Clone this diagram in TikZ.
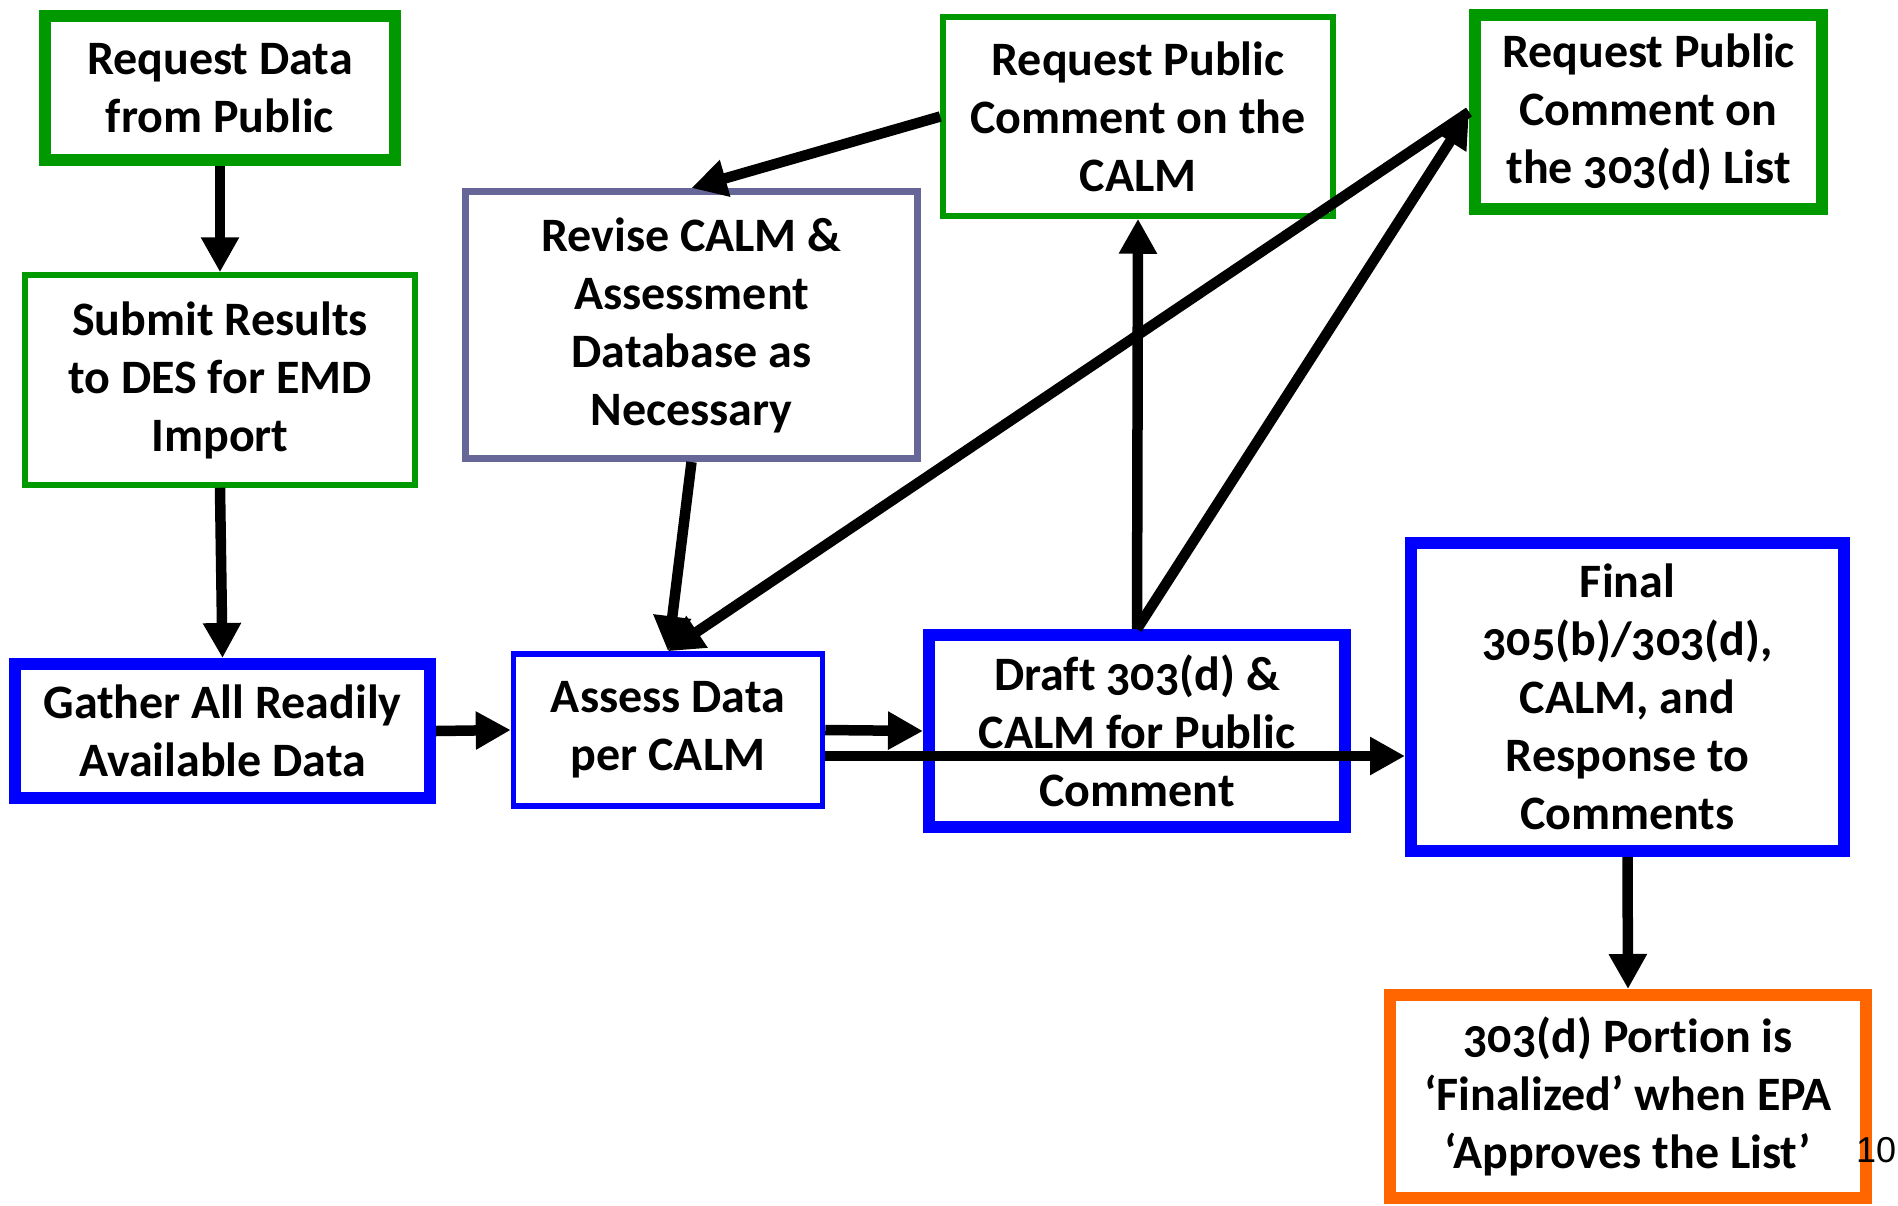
\documentclass[tikz,border=0pt]{standalone}
\usepackage{fontspec}
\setmainfont{Carlito}[Numbers=OldStyle, Ligatures=NoCommon]
\newfontfamily\pagefont{Liberation Sans}
\usetikzlibrary{arrows.meta}
\definecolor{boxgreen}{RGB}{0,153,0}
\definecolor{boxblue}{RGB}{0,0,255}
\definecolor{boxslate}{RGB}{102,102,153}
\definecolor{boxorange}{RGB}{255,102,0}
\begin{document}
\begin{tikzpicture}[x=1pt, y=-1pt,
		box/.style={draw, fill=white, inner sep=0pt, align=center, font=\bfseries\fontsize{48}{58}\selectfont},
		heavy/.style={box, line width=12pt},
		light/.style={box, line width=5.5pt},
		arr/.style={line width=10.5pt, -{Triangle[length=35pt,width=36pt]}}]
	\useasboundingbox (0,0) rectangle (1898,1205);
	% left column
	\node[heavy, draw=boxgreen, minimum width=350pt, minimum height=144pt] (reqdata) at (220,88) {Request Data\\from Public};
	\node[light, draw=boxgreen, minimum width=390pt, minimum height=210pt] (submit) at (220,380) {Submit Results\\to DES for EMD\\Import};
	\node[heavy, draw=boxblue, minimum width=415pt, minimum height=134pt] (gather) at (222.5,731) {Gather All Readily\\Available Data};
	% middle
	\node[light, draw=boxslate, line width=7pt, minimum width=452pt, minimum height=267pt] (revise) at (691.5,325) {Revise CALM \&\\Assessment\\Database as\\Necessary};
	\node[light, draw=boxblue, minimum width=309pt, minimum height=152pt] (assess) at (668,730) {Assess Data\\per CALM};
	\node[light, draw=boxgreen, minimum width=390pt, minimum height=199pt] (calm) at (1138,116.5) {Request Public\\Comment on the\\CALM};
	\node[heavy, draw=boxblue, minimum width=416pt, minimum height=192pt] (draft) at (1137,731) {Draft 303(d) \&\\CALM for Public\\Comment};
	% right column
	\node[heavy, draw=boxgreen, minimum width=347pt, minimum height=194pt] (list) at (1648.5,112) {Request Public\\Comment on\\the 303(d) List};
	\node[heavy, draw=boxblue, minimum width=433pt, minimum height=308pt] (final) at (1627.5,697) {Final\\305(b)/303(d),\\CALM, and\\Response to\\Comments};
	\node[heavy, draw=boxorange, minimum width=476pt, minimum height=203pt] (portion) at (1628,1096.5) {303(d) Portion is\\‘Finalized’ when EPA\\‘Approves the List’};
	\node[font=\pagefont\fontsize{36}{40}\selectfont, inner sep=0pt] (pagenum) at (1876,1150) {10};
	% connectors
	\draw[arr] (reqdata.south) -- (submit.north);
	\draw[arr] (submit.south) -- (gather.north);
	\draw[arr] (gather.east) -- (assess.west);
	\draw[arr] (assess.east) -- (draft.west);
	\draw[arr] ([yshift=-26pt]assess.east) -- ([yshift=-26pt]assess.east -| final.west);
	\draw[arr] (draft.north) -- (calm.south);
	\draw[arr] (draft.north) -- (list.west);
	\draw[arr] (list.west) -- (assess.north);
	\draw[arr] (calm.west) -- (revise.north);
	\draw[arr] (revise.south) -- (assess.north);
	\draw[arr] (final.south) -- (portion.north);
\end{tikzpicture}
\end{document}
